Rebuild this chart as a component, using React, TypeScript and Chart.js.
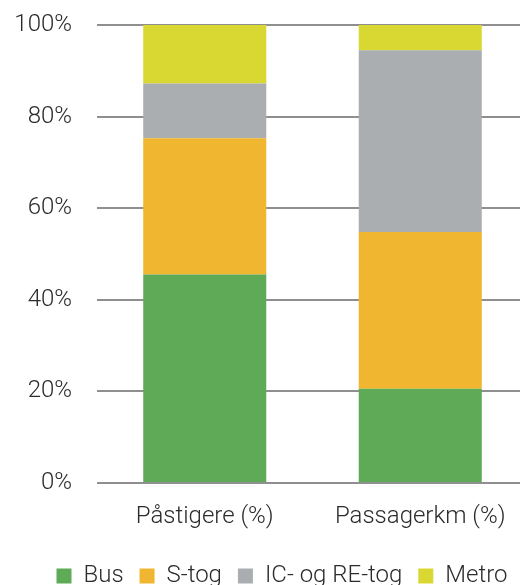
import React, { useEffect, useRef } from 'react';
import { Chart, registerables } from 'chart.js';

Chart.register(...registerables);

const categories = ['Påstigere (%)', 'Passagerkm (%)'];
const seriesNames = ['Bus', 'S-tog', 'IC- og RE-tog', 'Metro'];
const busValues = [45.5, 20.6];
const sTogValues = [29.8, 34.2];
const icReValues = [11.9, 39.7];
const metroValues = [12.8, 5.5];
const seriesColors = ['#5eaa57', '#f0b62f', '#aaaeb0', '#d9d832'];
const yMin = 0;
const yMax = 100;
const yStep = 20;

const FONT = 'Roboto, "Open Sans", sans-serif';
const TEXT_COLOR = '#2b2b2b';

const legendShift = {
  id: 'legendShift',
  afterLayout(chart: any) {
    const l = chart.legend;
    if (l) {
      l.left += 18;
      l.right += 18;
    }
  },
};

export default function App() {
  const canvasRef = useRef<HTMLCanvasElement | null>(null);

  useEffect(() => {
    const canvas = canvasRef.current;
    if (!canvas) return;
    const seriesValues = [busValues, sTogValues, icReValues, metroValues];
    const chart = new Chart(canvas, {
      type: 'bar',
      data: {
        labels: categories,
        datasets: seriesNames.map((name, i) => ({
          label: name,
          data: seriesValues[i],
          backgroundColor: seriesColors[i],
          borderWidth: 0,
          categoryPercentage: 1,
          barPercentage: 0.571,
        })),
      },
      options: {
        responsive: false,
        animation: false,
        devicePixelRatio: 1,
        layout: { padding: { top: 25, left: 0, right: 2, bottom: -13 } },
        plugins: {
          tooltip: { enabled: false },
          legend: {
            position: 'bottom',
            labels: {
              boxWidth: 15,
              boxHeight: 15,
              padding: 16,
              color: TEXT_COLOR,
              font: { family: FONT, size: 24, weight: 300 },
            },
          },
        },
        scales: {
          x: {
            stacked: true,
            grid: { display: false, drawTicks: false },
            border: { display: false },
            ticks: {
              color: TEXT_COLOR,
              font: { family: FONT, size: 24, weight: 300 },
              padding: 20,
              maxRotation: 0,
            },
            afterFit: (s: any) => {
              s.height = 65;
            },
          },
          y: {
            stacked: true,
            min: yMin,
            max: yMax,
            grid: { color: '#8f8f8f', lineWidth: 2, drawTicks: false },
            border: { display: false },
            ticks: {
              stepSize: yStep,
              color: TEXT_COLOR,
              font: { family: FONT, size: 24, weight: 300 },
              padding: 25,
              callback: (v: any) => v + '%',
            },
            afterFit: (s: any) => {
              s.width = 97;
              s.paddingTop = 0;
              s.paddingBottom = 0;
            },
          },
        },
      },
      plugins: [legendShift],
    });
    return () => chart.destroy();
  }, []);

  return (
    <div style={{ position: 'absolute', left: 0, top: 0, width: 520, height: 585, overflow: 'hidden', background: '#fff' }}>
      <canvas ref={canvasRef} width={530} height={585} style={{ display: 'block', width: 530, height: 585 }} />
    </div>
  );
}
